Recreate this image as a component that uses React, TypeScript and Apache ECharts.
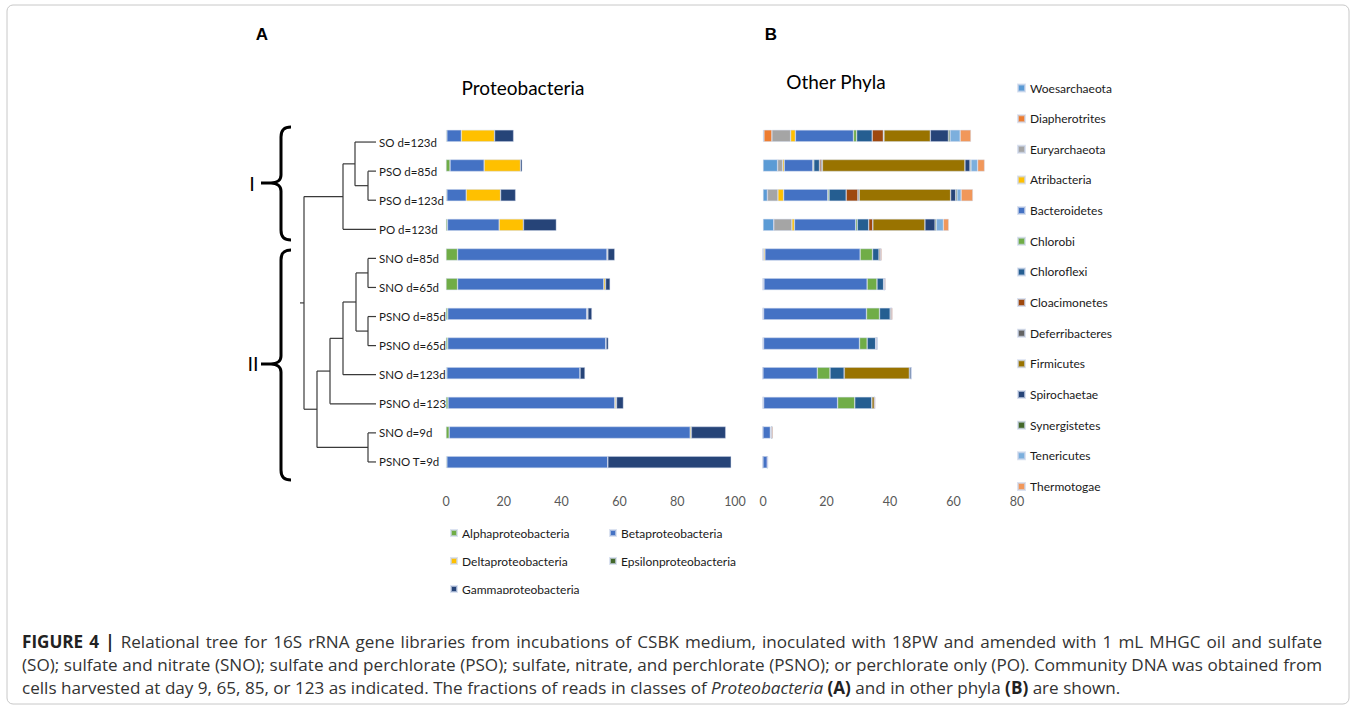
import React, { useEffect, useRef } from "react";
import * as echarts from "echarts";

// ---------- data ----------
const samples = [
  "SO d=123d", "PSO d=85d", "PSO d=123d", "PO d=123d",
  "SNO d=85d", "SNO d=65d", "PSNO d=85d", "PSNO d=65d",
  "SNO d=123d", "PSNO d=123", "SNO d=9d", "PSNO T=9d",
];

const proteoNames = ["Alphaproteobacteria", "Betaproteobacteria", "Deltaproteobacteria", "Epsilonproteobacteria", "Gammaproteobacteria"];
const proteoColors = ["#70AD47", "#4472C4", "#FFC000", "#43682B", "#264478"];
const alphaP = [0.3, 1.4, 0.3, 0.5, 4.0, 4.0, 0.6, 0.6, 0.3, 0.7, 1.1, 0.3];
const betaP = [5.0, 11.8, 6.7, 17.9, 51.7, 50.6, 48.1, 54.7, 46.1, 57.7, 83.4, 55.7];
const deltaP = [11.5, 12.6, 11.9, 8.4, 0.3, 0.6, 0.3, 0, 0, 0.4, 0.4, 0];
const epsilonP = [0, 0, 0, 0, 0, 0, 0.1, 0.1, 0, 0.2, 0, 0];
const gammaP = [6.6, 0.6, 5.2, 11.4, 2.4, 1.6, 1.4, 0.8, 1.7, 2.4, 11.9, 42.7];
const proteoValues = [alphaP, betaP, deltaP, epsilonP, gammaP];

const phylaNames = [
  "Woesarchaeota", "Diapherotrites", "Euryarchaeota", "Atribacteria", "Bacteroidetes",
  "Chlorobi", "Chloroflexi", "Cloacimonetes", "Deferribacteres", "Firmicutes",
  "Spirochaetae", "Synergistetes", "Tenericutes", "Thermotogae",
];
const phylaColors = [
  "#5B9BD5", "#ED7D31", "#A5A5A5", "#FFC000", "#4472C4", "#70AD47", "#255E91",
  "#9E480E", "#636363", "#997300", "#264478", "#43682B", "#7CAFDD", "#F1975A",
];
const woesarchaeota = [0.3, 4.6, 1.4, 3.4, 0, 0, 0, 0, 0, 0, 0, 0];
const diapherotrites = [2.5, 0, 0, 0, 0, 0, 0, 0, 0, 0, 0, 0];
const euryarchaeota = [5.9, 1.6, 3.3, 5.7, 0.2, 0.3, 0.2, 0.2, 0, 0.2, 0, 0];
const atribacteria = [1.5, 0.5, 1.8, 0.8, 0.4, 0, 0, 0, 0, 0, 0, 0];
const bacteroidetes = [18.3, 9.0, 13.9, 19.3, 30.0, 32.5, 32.4, 30.2, 17.1, 23.3, 2.3, 1.4];
const chlorobi = [1.0, 0.3, 0.4, 0.5, 3.9, 3.1, 4.1, 2.4, 4.0, 5.4, 0.2, 0];
const chloroflexi = [4.9, 1.8, 5.4, 3.6, 2.1, 2.1, 3.4, 2.7, 4.5, 5.4, 0.2, 0];
const cloacimonetes = [3.5, 0.5, 3.7, 1.3, 0, 0, 0, 0, 0, 0, 0, 0];
const deferribacteres = [0.2, 0.4, 0.4, 0, 0, 0, 0, 0, 0, 0, 0, 0];
const firmicutes = [14.6, 44.9, 28.8, 16.4, 0.4, 0.3, 0.3, 0.4, 20.5, 0.8, 0, 0];
const spirochaetae = [5.7, 1.6, 1.6, 3.2, 0, 0, 0, 0, 0.6, 0, 0, 0];
const synergistetes = [0.5, 0.3, 0.4, 0.4, 0, 0, 0, 0, 0, 0, 0, 0];
const tenericutes = [3.2, 2.1, 1.3, 2.2, 0, 0, 0, 0, 0, 0, 0, 0];
const thermotogae = [3.4, 2.2, 3.7, 1.7, 0.4, 0.3, 0.4, 0.1, 0, 0.3, 0.4, 0.2];
const phylaValues = [
  woesarchaeota, diapherotrites, euryarchaeota, atribacteria, bacteroidetes, chlorobi,
  chloroflexi, cloacimonetes, deferribacteres, firmicutes, spirochaetae, synergistetes,
  tenericutes, thermotogae,
];

const proteoTicks = { min: 0, max: 100, interval: 20 };
const phylaTicks = { min: 0, max: 80, interval: 20 };

// relational tree: [childA, childB, node x]; children 0..11 are leaves, 12+ earlier merges
const treeMerges = [
  [1, 2, 368],
  [0, 12, 355],
  [13, 3, 343],
  [4, 5, 368],
  [6, 7, 368],
  [15, 16, 356],
  [17, 8, 343],
  [18, 9, 330],
  [10, 11, 368],
  [19, 20, 317],
  [14, 21, 304],
];

// caption: lines of [style, text] runs; first two lines justified
const captionLines: [string, string][][] = [
  [["b", "FIGURE 4 |"], ["n", "Relational tree for 16S rRNA gene libraries from incubations of CSBK medium, inoculated with 18PW and amended with 1 mL MHGC oil and sulfate"]],
  [["n", "(SO); sulfate and nitrate (SNO); sulfate and perchlorate (PSO); sulfate, nitrate, and perchlorate (PSNO); or perchlorate only (PO). Community DNA was obtained from"]],
  [["n", "cells harvested at day 9, 65, 85, or 123 as indicated. The fractions of reads in classes of"], ["i", "Proteobacteria"], ["b", "(A)"], ["n", "and in other phyla"], ["b", "(B)"], ["n", "are shown."]],
];

// ---------- shapes ----------
function bracePath(x: number, y0: number, ym: number, y1: number) {
  return (
    `M ${x + 10} ${y0} C ${x + 3} ${y0} ${x} ${y0 + 3} ${x} ${y0 + 10} ` +
    `L ${x} ${ym - 8} C ${x} ${ym - 3} ${x - 4} ${ym} ${x - 10} ${ym} L ${x - 20} ${ym} ` +
    `M ${x - 10} ${ym} C ${x - 4} ${ym} ${x} ${ym + 3} ${x} ${ym + 8} ` +
    `L ${x} ${y1 - 10} C ${x} ${y1 - 3} ${x + 3} ${y1} ${x + 10} ${y1}`
  );
}
echarts.graphic.registerShape("braceOne", echarts.graphic.extendPath(bracePath(281, 127, 183, 240), {}));
echarts.graphic.registerShape("braceTwo", echarts.graphic.extendPath(bracePath(281, 250, 364, 480), {}));

const FONT = "Lato, 'Noto Sans', sans-serif";
const CAP_FAMILY = "'Open Sans', 'Liberation Sans', Arial, sans-serif";
const CAP_SIZE = 17.1;

function capFont(style: string) {
  if (style === "b") return `bold ${CAP_SIZE}px ${CAP_FAMILY}`;
  if (style === "i") return `italic ${CAP_SIZE}px ${CAP_FAMILY}`;
  return `${CAP_SIZE}px ${CAP_FAMILY}`;
}

function buildCaption(x0: number, x1: number, yFirst: number, lineGap: number) {
  const canvas = document.createElement("canvas");
  const ctx = canvas.getContext("2d")!;
  const els: any[] = [];
  captionLines.forEach((runs, li) => {
    const words: { t: string; s: string; w: number }[] = [];
    runs.forEach(([s, text]) => {
      ctx.font = capFont(s);
      text.split(" ").filter((t) => t.length).forEach((t) => words.push({ t, s, w: ctx.measureText(t).width }));
    });
    ctx.font = capFont("n");
    const space = ctx.measureText(" ").width;
    const total = words.reduce((a, w) => a + w.w, 0);
    const justify = li < captionLines.length - 1;
    const gap = justify ? Math.max(space * 0.9, (x1 - x0 - total) / (words.length - 1)) : space;
    let x = x0;
    const y = yFirst + li * lineGap;
    words.forEach((w) => {
      els.push({
        type: "text", x, y,
        style: { text: w.t, font: capFont(w.s), fill: w.s === "b" ? "#222" : "#333", textVerticalAlign: "middle" },
      });
      x += w.w + gap;
    });
  });
  return els;
}

export default function App() {
  const ref = useRef<HTMLDivElement>(null);

  useEffect(() => {
    if (!ref.current) return;
    const chart = echarts.init(ref.current, null, { renderer: "svg" });

    const barStyle = (color: string) => ({
      color,
      borderColor: "rgba(205,215,235,0.7)",
      borderWidth: 0.6,
    });

    const series: any[] = [];
    proteoNames.forEach((n, i) => {
      series.push({
        name: n, type: "bar", stack: "proteo", xAxisIndex: 0, yAxisIndex: 0,
        barWidth: 12, data: proteoValues[i], itemStyle: barStyle(proteoColors[i]),
      });
    });
    phylaNames.forEach((n, i) => {
      series.push({
        name: n, type: "bar", stack: "phyla", xAxisIndex: 1, yAxisIndex: 1,
        barWidth: 12, data: phylaValues[i], itemStyle: barStyle(phylaColors[i]),
      });
    });

    const valueAxis = (gridIndex: number, t: { min: number; max: number; interval: number }) => ({
      gridIndex, type: "value", min: t.min, max: t.max, interval: t.interval,
      axisLine: { show: false }, axisTick: { show: false }, splitLine: { show: false },
      axisLabel: { color: "#595959", fontSize: 12.5, margin: 18, fontFamily: FONT },
    });

    const legendText = { fontSize: 12, color: "#1a1a1a", fontFamily: FONT, lineHeight: 16 };

    const option: any = {
      animation: false,
      backgroundColor: "#ffffff",
      textStyle: { fontFamily: FONT },
      grid: [
        { left: 446, top: 121, width: 289, height: 356 },
        { left: 763, top: 121, width: 254, height: 356 },
        { left: 440, top: 127.5, width: 1, height: 349 },
      ],
      xAxis: [
        valueAxis(0, proteoTicks),
        valueAxis(1, phylaTicks),
        { gridIndex: 2, type: "value", show: false },
      ],
      yAxis: [
        { gridIndex: 0, type: "category", data: samples, inverse: true, show: false },
        { gridIndex: 1, type: "category", data: samples, inverse: true, show: false },
        {
          gridIndex: 2, type: "category", data: samples, inverse: true,
          axisLine: { show: false }, axisTick: { show: false },
          axisLabel: { align: "left", margin: 61, color: "#1a1a1a", fontSize: 11.5, fontFamily: FONT },
        },
      ],
      legend: [
        {
          data: ["Alphaproteobacteria", "Deltaproteobacteria", "Gammaproteobacteria"],
          orient: "vertical", left: 450, top: 525, padding: 0, itemWidth: 6, itemHeight: 6, itemGap: 12,
          icon: "rect", selectedMode: false, textStyle: legendText,
        },
        {
          data: ["Betaproteobacteria", "Epsilonproteobacteria"],
          orient: "vertical", left: 609, top: 525, padding: 0, itemWidth: 6, itemHeight: 6, itemGap: 12,
          icon: "rect", selectedMode: false, textStyle: legendText,
        },
        {
          data: phylaNames,
          orient: "vertical", left: 1017, top: 80, padding: 0, itemWidth: 7, itemHeight: 7, itemGap: 14.65,
          icon: "rect", selectedMode: false, textStyle: legendText,
        },
      ],
      series,
    };
    chart.setOption(option);

    // dendrogram from axis positions
    const leafX = 376;
    const ys: number[] = samples.map((_, i) => chart.convertToPixel({ yAxisIndex: 2 }, i) as number);
    const xs: number[] = samples.map(() => leafX);
    const lines: any[] = [];
    const lineStyle = { stroke: "#3a3a3a", lineWidth: 1.2 };
    treeMerges.forEach(([a, b, x]) => {
      const ya = ys[a], yb = ys[b];
      lines.push({ type: "line", shape: { x1: x, y1: ya, x2: x, y2: yb }, style: lineStyle });
      lines.push({ type: "line", shape: { x1: x, y1: ya, x2: xs[a], y2: ya }, style: lineStyle });
      lines.push({ type: "line", shape: { x1: x, y1: yb, x2: xs[b], y2: yb }, style: lineStyle });
      ys.push((ya + yb) / 2);
      xs.push(x);
    });
    const rootY = ys[ys.length - 1];
    const rootX = xs[xs.length - 1];
    lines.push({ type: "line", shape: { x1: rootX - 4, y1: rootY, x2: rootX, y2: rootY }, style: lineStyle });

    const captionEls = buildCaption(22, 1322, 641, 23);
    const plain = "'Liberation Sans', Arial, sans-serif";

    chart.setOption({
      graphic: [
        {
          type: "rect", shape: { x: 7, y: 5, width: 1342, height: 699, r: 6 },
          style: { fill: "none", stroke: "#c8c8c8", lineWidth: 1 }, silent: true,
        },
        { type: "text", x: 262, y: 34, style: { text: "A", font: `bold 17px ${plain}`, fill: "#000", textAlign: "center", textVerticalAlign: "middle" } },
        { type: "text", x: 771, y: 34, style: { text: "B", font: `bold 17px ${plain}`, fill: "#000", textAlign: "center", textVerticalAlign: "middle" } },
        { type: "text", x: 523, y: 87, style: { text: "Proteobacteria", font: `19px ${FONT}`, fill: "#000", textAlign: "center", textVerticalAlign: "middle" } },
        { type: "text", x: 836, y: 81, style: { text: "Other Phyla", font: `19px ${FONT}`, fill: "#000", textAlign: "center", textVerticalAlign: "middle" } },
        { type: "text", x: 252, y: 184, style: { text: "I", font: `20px ${plain}`, fill: "#000", textAlign: "center", textVerticalAlign: "middle" } },
        { type: "text", x: 253, y: 364, style: { text: "II", font: `20px ${plain}`, fill: "#000", textAlign: "center", textVerticalAlign: "middle" } },
        { type: "braceOne", style: { stroke: "#000", lineWidth: 3, fill: "none" } },
        { type: "braceTwo", style: { stroke: "#000", lineWidth: 3, fill: "none" } },
        ...lines,
        { type: "rect", z: 100, shape: { x: 440, y: 594, width: 330, height: 20 }, style: { fill: "#fff" } },
        ...captionEls,
      ],
    });

    return () => chart.dispose();
  }, []);

  return (
    <div
      ref={ref}
      style={{ position: "fixed", left: 0, top: 0, width: 1357, height: 710, background: "#fff" }}
    />
  );
}
